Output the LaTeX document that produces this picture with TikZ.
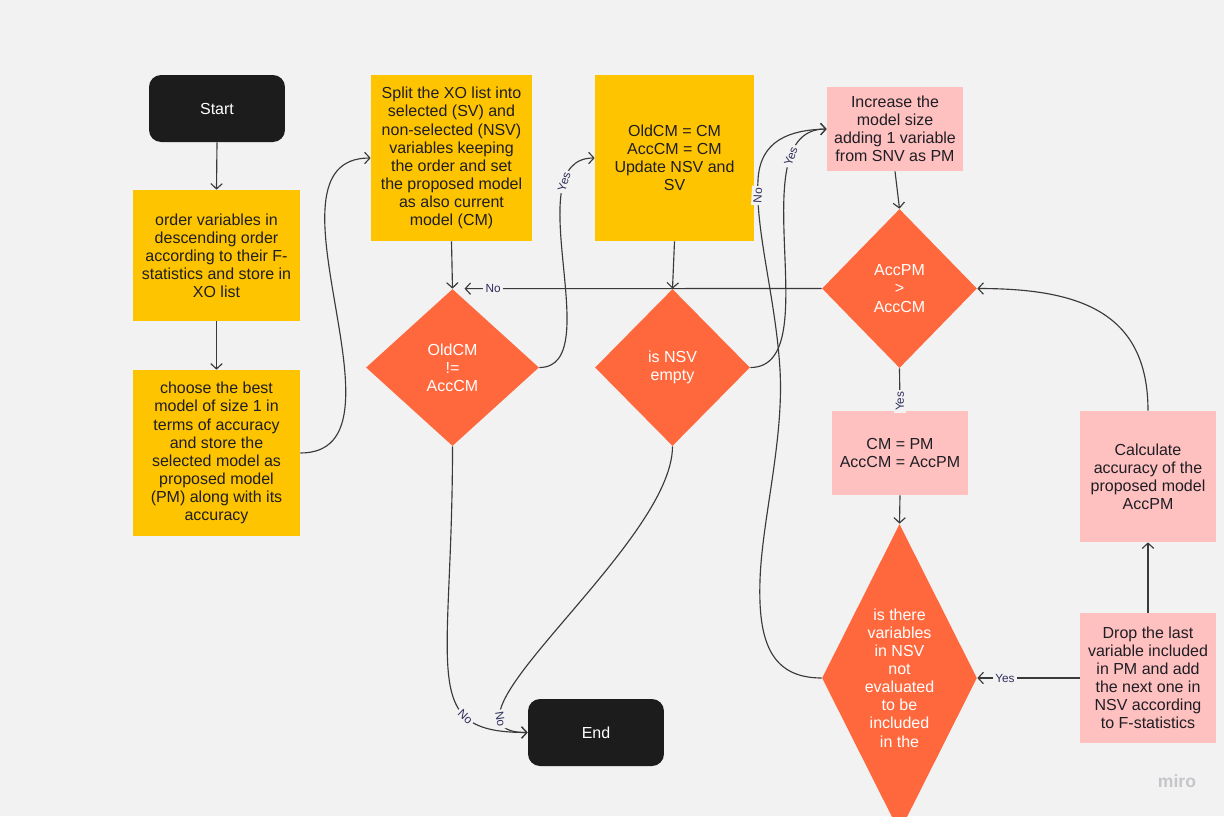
\documentclass[tikz,border=0pt]{standalone}
\usepackage{fontspec}
\setmainfont{Liberation Sans}
\usetikzlibrary{arrows.meta,shapes.geometric}
\definecolor{bg}{HTML}{F2F2F2}
\definecolor{yel}{HTML}{FFC400}
\definecolor{org}{HTML}{FF683D}
\definecolor{pnk}{HTML}{FFC0C0}
\definecolor{blk}{HTML}{1C1C1C}
\definecolor{txt}{HTML}{1E1E24}
\definecolor{linec}{HTML}{3A3A3A}
\definecolor{lab}{HTML}{2F2E5A}
\definecolor{miroc}{HTML}{C6C6CA}
\newcommand{\fsbox}{\fontsize{9.1}{10.3}\selectfont}
\newcommand{\fslab}{\fontsize{6.7}{7.5}\selectfont}
\begin{document}
\begin{tikzpicture}[x=0.02cm,y=-0.02cm,
  box/.style={rectangle, inner sep=0pt, align=center, font=\fsbox, text=txt},
  ybox/.style={box, fill=yel},
  pbox/.style={box, fill=pnk},
  term/.style={rectangle, rounded corners=0.24cm, fill=blk, text=white, minimum width=2.72cm, minimum height=1.34cm, font=\fsbox},
  diam/.style={diamond, fill=org, inner sep=0pt, align=center, font=\fsbox, text=white},
  dtext/.style={align=center, font=\fsbox, text=white, inner sep=0pt},
  arr/.style={draw=linec, line width=0.65pt, -{Straight Barb[length=3pt,width=6.5pt]}},
  lbl/.style={font=\fslab, text=lab, fill=bg, inner sep=1.2pt}
]
\fill[bg] (0,0) rectangle (1224,816);
\useasboundingbox (0,0) rectangle (1224,816);
\clip (0,0) rectangle (1224,816);

% terminals
\node[term] (start) at (217,108.5) {Start};
\node[term] (end) at (596,732.5) {End};

% yellow boxes
\node[ybox, minimum width=3.34cm, minimum height=2.62cm] (b1) at (216.5,255.5)
  {order variables in\\descending order\\according to their F-\\statistics and store in\\XO list};
\node[ybox, minimum width=3.34cm, minimum height=3.32cm] (b2) at (216.5,453)
  {choose the best\\model of size 1 in\\terms of accuracy\\and store the\\selected model as\\proposed model\\(PM) along with its\\accuracy};
\node[ybox, minimum width=3.22cm, minimum height=3.32cm] (b3) at (451.5,158)
  {Split the XO list into\\selected (SV) and\\non-selected (NSV)\\variables keeping\\the order and set\\the proposed model\\as also current\\model (CM)};
\node[ybox, minimum width=3.18cm, minimum height=3.32cm] (b4) at (674.5,158)
  {OldCM = CM\\AccCM = CM\\Update NSV and\\SV};

% pink boxes
\node[pbox, minimum width=2.72cm, minimum height=1.68cm] (b5) at (895,129)
  {Increase the\\model size\\adding 1 variable\\from SNV as PM};
\node[pbox, minimum width=2.72cm, minimum height=1.68cm] (b6) at (900,453)
  {CM = PM\\AccCM = AccPM};
\node[pbox, minimum width=2.72cm, minimum height=2.6cm] (b7) at (1148,678)
  {Drop the last\\variable included\\in PM and add\\the next one in\\NSV according\\to F-statistics};
\node[pbox, minimum width=2.72cm, minimum height=2.62cm] (b8) at (1148,476.5)
  {Calculate\\accuracy of the\\proposed model\\AccPM};

% diamonds
\node[diam, minimum width=3.46cm, minimum height=3.14cm] (d1) at (452.5,367.5) {OldCM\\!=\\AccCM};
\node[diam, minimum width=3.1cm, minimum height=3.14cm] (d2) at (672.5,367.5) {is NSV\\empty};
\node[diam, minimum width=3.1cm, minimum height=3.18cm] (d3) at (899.5,288.5) {AccPM\\>\\AccCM};
\node[diam, minimum width=3.1cm, minimum height=6.16cm,
  label={[dtext]center:{is there\\variables\\in NSV\\not\\evaluated\\to be\\included\\in the}}] (d4) at (899.5,678) {};

% connectors
\draw[arr] (start.south) -- (b1.north);
\draw[arr] (b1.south) -- (b2.north);
\draw[arr] (b2.east) .. controls +(120,0) and +(-120,0) .. (b3.west);
\draw[arr] (b3.south) -- (d1.north);
\draw[arr] (d1.east) .. controls +(70,0) and +(-80,0) .. (b4.west) node[lbl,sloped,pos=0.79] {Yes};
\draw[arr] (b4.south) -- (d2.north);
\draw[arr] (d2.east) .. controls +(80,0) and +(-90,0) .. (b5.west) node[lbl,sloped,pos=0.79] {Yes};
\draw[arr] (d1.south) .. controls +(0,230) and +(-110,0) .. (end.west) node[lbl,sloped,pos=0.72] {No};
\draw[arr] (d2.south) .. controls +(0,100) and +(-110,0) .. (end.west) node[lbl,sloped,pos=0.84] {No};
\draw[arr] (b5.south) -- (d3.north);
\draw[arr, shorten >=0.24cm] (d3.west) -- (d1.north) node[lbl,pos=0.89] {No};
\draw[arr] (d3.south) -- (b6.north) node[lbl,rotate=90,pos=0.78] {Yes};
\draw[arr] (b6.south) -- (d4.north);
\draw[arr] (b7.west) -- (d4.east) node[lbl,pos=0.73] {Yes};
\draw[arr] (b7.north) -- (b8.south);
\draw[arr] (b8.north) .. controls +(0,-100) and +(100,0) .. (d3.east);
\draw[arr] (d4.west) .. controls (770,678) and (758,640) .. (760,580)
  .. controls (762,520) and (784,440) .. (780,370)
  .. controls (776,300) and (755,230) .. (758,180) node[lbl,rotate=87,pos=0.9] {No}
  .. controls (760,140) and (790,130) .. (b5.west);

% watermark
\node[font=\bfseries\fontsize{10}{12}\selectfont, text=miroc] (miro) at (1177,781) {miro};
\end{tikzpicture}
\end{document}
